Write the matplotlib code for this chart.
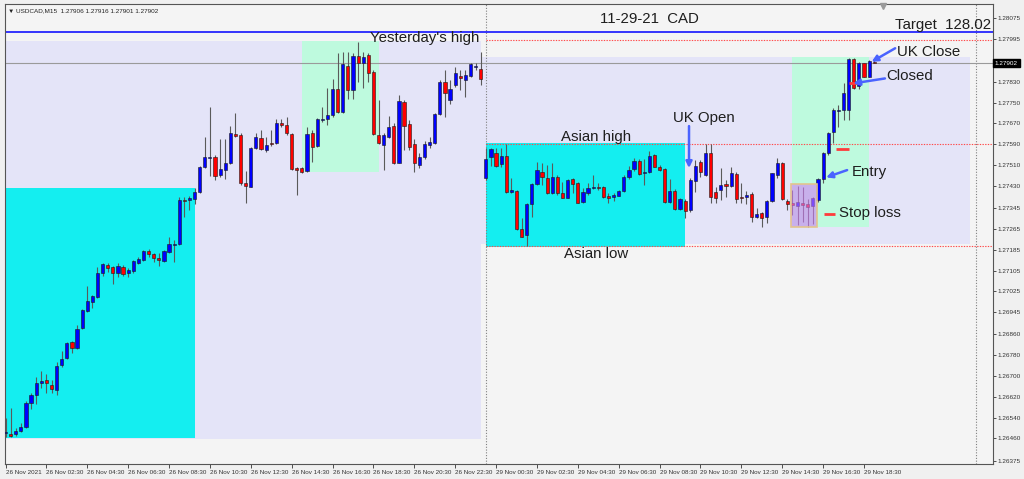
import numpy as np
import pandas as pd
import matplotlib.pyplot as plt
from matplotlib.patches import Rectangle
import matplotlib.transforms as mtransforms

# USDCAD M15, prices in points (1e-5)
opens = [126481, 126477, 126477, 126489, 126504, 126596, 126627, 126673, 126685, 126666,
         126646, 126742, 126769, 126831, 126808, 126884, 126950, 126984, 127004, 127096,
         127126, 127119, 127096, 127119, 127096, 127103, 127134, 127146, 127180, 127169,
         127153, 127142, 127176, 127203, 127207, 127376, 127376, 127380, 127407, 127503,
         127537, 127541, 127472, 127491, 127518, 127629, 127626, 127441, 127426, 127576,
         127614, 127568, 127595, 127595, 127672, 127664, 127629, 127499, 127499, 127487,
         127633, 127583, 127683, 127687, 127702, 127802, 127714, 127891, 127798, 127929,
         127902, 127933, 127868, 127626, 127587, 127618, 127660, 127518, 127752, 127668,
         127591, 127510, 127541, 127587, 127595, 127706, 127829, 127760, 127818, 127852,
         127837, 127852, 127887, 127879,
         127460, 127541, 127556, 127514, 127545, 127407,
         127411, 127265, 127242, 127361, 127437, 127484, 127460, 127403, 127464, 127403,
         127384, 127457, 127441, 127368, 127403, 127422, 127426, 127426, 127391, 127388,
         127391, 127411, 127464, 127495, 127526, 127480, 127484, 127549, 127503, 127495,
         127368, 127411, 127341, 127372, 127338, 127449, 127522, 127472, 127556, 127407,
         127414, 127437, 127430, 127476, 127388, 127388, 127399, 127311, 127326, 127311,
         127372, 127472, 127518, 127372, 127364, 127353, 127364, 127361, 127353, 127376,
         127457, 127556, 127637, 127718, 127722, 127722, 127917, 127814, 127902, 127848,
         127906]
highs = [126539, 126577, 126500, 126520, 126604, 126635, 126696, 126719, 126708, 126685,
         126754, 126796, 126831, 126835, 126896, 126957, 127046, 127011, 127119, 127134,
         127134, 127123, 127134, 127126, 127115, 127146, 127157, 127184, 127188, 127172,
         127172, 127184, 127234, 127222, 127388, 127388, 127391, 127422, 127507, 127618,
         127733, 127549, 127610, 127610, 127660, 127710, 127633, 127487, 127580, 127633,
         127645, 127618, 127645, 127687, 127687, 127695, 127633, 127503, 127503, 127656,
         127645, 127691, 127733, 127806, 127841, 127940, 127944, 127944, 127940, 127983,
         127944, 127940, 127875, 127760, 127633, 127699, 127672, 127779, 127760, 127683,
         127610, 127556, 127603, 127618, 127710, 127837, 127875, 127837, 127887, 127875,
         127875, 127902, 127902, 127944,
         127576, 127576, 127576, 127576, 127591, 127460,
         127414, 127307, 127364, 127441, 127522, 127518, 127510, 127518, 127472, 127445,
         127457, 127460, 127445, 127422, 127441, 127472, 127441, 127430, 127403, 127403,
         127414, 127472, 127507, 127537, 127533, 127533, 127564, 127553, 127510, 127499,
         127457, 127418, 127384, 127380, 127460, 127530, 127530, 127591, 127591, 127426,
         127499, 127453, 127503, 127484, 127441, 127411, 127407, 127345, 127330, 127376,
         127480, 127537, 127522, 127380, 127414, 127430, 127426, 127380, 127388, 127460,
         127560, 127637, 127729, 127741, 127825, 127921, 127921, 127906, 127902, 127914,
         127916]
lows = [126466, 126466, 126470, 126485, 126500, 126573, 126593, 126654, 126635, 126635,
        126627, 126735, 126765, 126788, 126804, 126881, 126946, 126961, 127000, 127084,
        127100, 127053, 127080, 127084, 127080, 127096, 127130, 127142, 127157, 127138,
        127123, 127138, 127172, 127138, 127203, 127311, 127338, 127361, 127403, 127499,
        127468, 127453, 127464, 127457, 127514, 127618, 127434, 127364, 127426, 127572,
        127568, 127560, 127583, 127591, 127656, 127626, 127491, 127395, 127480, 127484,
        127522, 127580, 127676, 127664, 127695, 127710, 127710, 127764, 127764, 127829,
        127806, 127829, 127626, 127591, 127491, 127614, 127514, 127518, 127568, 127568,
        127484, 127499, 127533, 127576, 127591, 127702, 127695, 127745, 127810, 127798,
        127772, 127848, 127875, 127818,
        127453, 127507, 127503, 127503, 127403, 127403,
        127261, 127234, 127199, 127311, 127434, 127434, 127399, 127399, 127395, 127384,
        127384, 127403, 127364, 127364, 127395, 127418, 127414, 127384, 127364, 127372,
        127391, 127407, 127457, 127487, 127472, 127434, 127480, 127503, 127487, 127364,
        127364, 127338, 127338, 127307, 127330, 127407, 127464, 127468, 127364, 127364,
        127376, 127388, 127426, 127364, 127364, 127361, 127292, 127307, 127272, 127288,
        127368, 127460, 127376, 127338, 127318, 127280, 127292, 127272, 127284, 127368,
        127441, 127549, 127595, 127656, 127683, 127683, 127802, 127802, 127848, 127848,
        127901]
closes = [126485, 126470, 126489, 126504, 126596, 126627, 126673, 126681, 126673, 126650,
          126739, 126765, 126827, 126808, 126881, 126954, 126988, 127007, 127096, 127130,
          127115, 127096, 127123, 127092, 127107, 127142, 127149, 127180, 127169, 127153,
          127146, 127180, 127207, 127207, 127376, 127372, 127384, 127407, 127503, 127541,
          127541, 127468, 127495, 127518, 127633, 127622, 127441, 127430, 127576, 127618,
          127572, 127587, 127591, 127672, 127664, 127633, 127495, 127491, 127484, 127629,
          127580, 127687, 127687, 127702, 127802, 127714, 127898, 127798, 127929, 127902,
          127925, 127864, 127629, 127595, 127626, 127656, 127518, 127756, 127660, 127580,
          127518, 127541, 127591, 127599, 127706, 127829, 127787, 127802, 127864, 127844,
          127856, 127898, 127891, 127841,
          127533, 127572, 127507, 127545, 127407, 127414,
          127265, 127234, 127361, 127437, 127491, 127464, 127403, 127464, 127403, 127384,
          127453, 127437, 127364, 127407, 127422, 127426, 127422, 127388, 127384, 127395,
          127411, 127464, 127491, 127526, 127476, 127484, 127545, 127503, 127491, 127368,
          127411, 127341, 127380, 127334, 127453, 127507, 127484, 127556, 127388, 127384,
          127434, 127430, 127480, 127380, 127384, 127395, 127311, 127322, 127307, 127372,
          127480, 127518, 127380, 127361, 127357, 127368, 127357, 127349, 127384, 127457,
          127556, 127633, 127722, 127722, 127787, 127917, 127806, 127902, 127848, 127910,
          127902]

times = pd.date_range('2021-11-26 00:30', '2021-11-26 23:45', freq='15min').append(
    pd.date_range('2021-11-29 00:00', periods=77, freq='15min'))

price_ticks = [1.28075, 1.27995, 1.27910, 1.27830, 1.27750, 1.27670, 1.27590, 1.27510,
               1.27430, 1.27345, 1.27265, 1.27185, 1.27105, 1.27025, 1.26945, 1.26860,
               1.26780, 1.26700, 1.26620, 1.26540, 1.26460, 1.26375]

# shaded boxes: start bar, end bar, low, high
zone_start = [-0.1, -0.1, 58.0, 93.05, 94.0, 153.9]
zone_end = [93.05, 37.1, 73.1, 188.8, 132.9, 169.0]
zone_low = [1.26458, 1.26462, 1.27485, 1.27207, 1.27194, 1.27272]
zone_high = [1.27987, 1.27422, 1.27987, 1.27925, 1.27594, 1.27925]
zone_colors = ['#E4E4F8', '#14EEF0', '#BEFADE', '#E4E4F8', '#14EEF0', '#BEFADE']

target = 1.28021
yday_high = 1.27990
asian_high = 1.27591
asian_low = 1.27199
last_price = 1.27902
entry_level = 1.27572
closed_level = 1.27824
stop_level = 1.27322

o = np.array(opens) / 1e5
h = np.array(highs) / 1e5
l = np.array(lows) / 1e5
c = np.array(closes) / 1e5
x = np.arange(len(o))

plt.rcParams['font.family'] = ['Liberation Sans', 'DejaVu Sans']
fig = plt.figure(figsize=(10.24, 4.79), dpi=100, facecolor='#F0F0F0')
ax = fig.add_axes([5/1024, 15/479, 988/1024, 460/479])
ax.set_facecolor('#F4F4F4')
ax.set_xlim(-0.1, 193.25)
ax.set_ylim(1.26362, 1.28129)

for s, e, lo, hi, col in zip(zone_start, zone_end, zone_low, zone_high, zone_colors):
    ax.add_patch(Rectangle((s, lo), e - s, hi - lo, facecolor=col, edgecolor='none', zorder=0.5))

# purple stop-loss box drawn over candles
ax.add_patch(Rectangle((153.8, 1.27272), 5.1, 1.27437 - 1.27272, facecolor='#D080F4',
                       alpha=0.6, edgecolor='none', zorder=5))
ax.add_patch(Rectangle((153.8, 1.27272), 5.1, 1.27437 - 1.27272, facecolor='none',
                       edgecolor='#E2C48E', lw=1.2, zorder=5.1))

ax.axhline(target, color='#0000FF', lw=1.1, zorder=2)
ax.axhline(last_price, color='#9A9A9A', lw=0.8, zorder=1.5)
for lev in [yday_high, asian_high, asian_low]:
    ax.hlines(lev, 94, 193.25, colors='#FF4A4A', lw=0.8, linestyles=(0, (1.2, 1.2)), zorder=1.2)
ax.axvline(93.95, color='#808080', lw=0.8, ls=(0, (1, 1.5)), zorder=1)
ax.axvline(189.9, color='#808080', lw=0.8, ls=(0, (1, 1.5)), zorder=1)

# candles
up = c >= o
ax.vlines(x, l, h, color='#5A5A5A', lw=0.8, zorder=3)
body = np.maximum(np.abs(c - o), 0.00004)
ax.bar(x, body, 0.62, bottom=np.minimum(o, c), color=np.where(up, '#0000FF', '#FF0000'),
       edgecolor='#1A1A1A', lw=0.4, zorder=3.5)

# small marker lines
ax.hlines(entry_level, 162.5, 165.1, color='#FF3B3B', lw=2, zorder=4)
ax.hlines(closed_level, 165.1, 166.6, color='#FF3B3B', lw=2, zorder=4)
ax.hlines(stop_level, 160.2, 162.3, color='#FF3B3B', lw=2, zorder=4)

arrow = dict(arrowstyle='-|>', color='#4A63FF', lw=1.8, mutation_scale=9, shrinkA=0, shrinkB=0)
ax.annotate('', xy=(133.76, 1.27499), xytext=(133.76, 1.27660), arrowprops=arrow, zorder=6)
ax.annotate('', xy=(160.6, 1.27463), xytext=(164.7, 1.27491), arrowprops=arrow, zorder=6)
ax.annotate('', xy=(169.5, 1.27907), xytext=(174.1, 1.27959), arrowprops=arrow, zorder=6)
ax.annotate('', xy=(165.9, 1.27824), xytext=(172.1, 1.27843), arrowprops=arrow, zorder=6)

tk = dict(fontsize=10.8, color='#1E1E1E', va='center', ha='left', zorder=7)
ax.text(71.3, 1.27998, "Yesterday's high", **tk)
ax.text(116.3, 1.28070, '11-29-21  CAD', **tk)
ax.text(174.1, 1.28048, 'Target  128.02', **tk)
ax.text(174.4, 1.27946, 'UK Close', **tk)
ax.text(172.4, 1.27852, 'Closed', **tk)
ax.text(165.6, 1.27485, 'Entry', **tk)
ax.text(163.1, 1.27325, 'Stop loss', **tk)
ax.text(130.6, 1.27690, 'UK Open', **tk)
ax.text(108.7, 1.27619, 'Asian high', **tk)
ax.text(109.3, 1.27169, 'Asian low', **tk)

ax.text(0.5, 1.28104, '\u25BC USDCAD,M15  1.27906 1.27916 1.27901 1.27902', fontsize=4.6,
        color='#222222', va='center', ha='left', zorder=7)
ax.plot(171.7, 1.28122, marker='v', color='#9A9A9A', ms=4, clip_on=False, zorder=7)

# axes
ax.yaxis.tick_right()
ax.set_yticks(price_ticks)
ax.set_yticklabels([f'{v:.5f}' for v in price_ticks])
tick_idx = list(range(0, len(times), 8))
ax.set_xticks(tick_idx)
xlabels = [times[i].strftime('%d %b %H:%M') for i in tick_idx]
xlabels[0] = times[0].strftime('%d %b %Y')
ax.set_xticklabels(xlabels, ha='left')
ax.tick_params(axis='y', length=2, width=0.6, pad=1, labelsize=4.6, colors='#333333')
ax.tick_params(axis='x', length=3, width=0.6, pad=1.5, labelsize=4.5, colors='#333333')
for lab in ax.get_yticklabels():
    if lab.get_text() == '1.27910':
        lab.set_visible(False)
for sp in ax.spines.values():
    sp.set_color('#555555')
    sp.set_linewidth(0.8)

trans = mtransforms.blended_transform_factory(ax.transAxes, ax.transData)
ax.text(1.002, last_price, f'{last_price:.5f}', transform=trans, fontsize=4.6, color='white',
        va='center', ha='left', zorder=8,
        bbox=dict(boxstyle='square,pad=0.25', facecolor='black', edgecolor='black'))

fig.savefig('out.png', dpi=100, facecolor=fig.get_facecolor())
